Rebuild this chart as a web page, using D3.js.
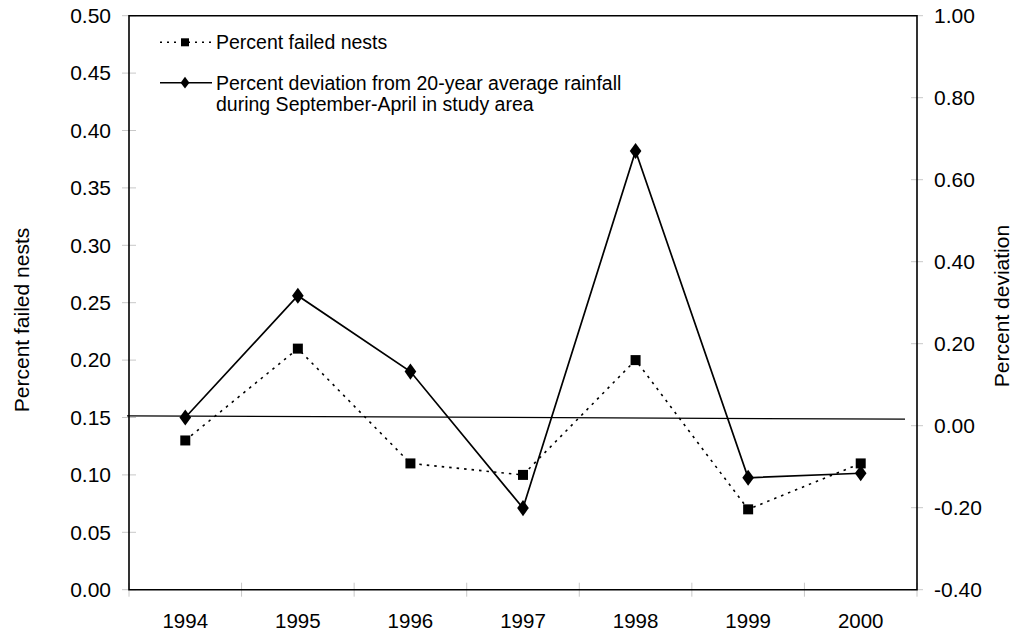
<!DOCTYPE html>
<html><head><meta charset="utf-8">
<script src="https://cdn.jsdelivr.net/npm/d3@7/dist/d3.min.js"></script>
<style>body{margin:0;background:#fff;} text{font-family:"Liberation Sans",Arial,sans-serif;fill:#000;}</style>
</head><body>
<svg id="c" width="1016" height="634"></svg>
<script>
const years = ["1994","1995","1996","1997","1998","1999","2000"];
const failedNests = [0.13, 0.21, 0.11, 0.10, 0.20, 0.07, 0.11];
const rainDeviation = [0.02, 0.317, 0.132, -0.201, 0.670, -0.127, -0.116];
const leftTicks = [0,0.05,0.10,0.15,0.20,0.25,0.30,0.35,0.40,0.45,0.50];
const rightTicks = [-0.40,-0.20,0,0.20,0.40,0.60,0.80,1.00];
const refLine = [0.1515, 0.1485];
const legendLabels = ["Percent failed nests", ["Percent deviation from 20-year average rainfall","during September-April in study area"]];

const svg = d3.select("#c");
const L = 129, R = 917, T = 15.7, B = 589.7;
const x = d3.scaleBand().domain(years).range([L, R]);
const yL = d3.scaleLinear().domain([0, 0.5]).range([B, T]);
const yR = d3.scaleLinear().domain([-0.4, 1.0]).range([B, T]);
const fmt = d => d3.format(".2f")(d).replace("\u2212","-");

const gray = "#c8c8c8";
svg.selectAll(".lt").data(leftTicks).enter().append("line")
  .attr("x1", L-7).attr("x2", L+7).attr("y1", d=>yL(d)).attr("y2", d=>yL(d)).attr("stroke", gray).attr("stroke-width",1);
svg.selectAll(".rt").data(rightTicks).enter().append("line")
  .attr("x1", R-6).attr("x2", R+6).attr("y1", d=>yR(d)).attr("y2", d=>yR(d)).attr("stroke", gray).attr("stroke-width",1);
const xt = years.map(d=>x(d)).concat([R]);
svg.selectAll(".xt").data(xt).enter().append("line")
  .attr("x1", d=>d).attr("x2", d=>d).attr("y1", B-7).attr("y2", B+7).attr("stroke", gray).attr("stroke-width",1);

svg.selectAll(".ll").data(leftTicks).enter().append("text")
  .attr("x", 111).attr("y", d=>yL(d)).attr("dy","0.35em").attr("text-anchor","end")
  .attr("font-size", 21).text(fmt);
svg.selectAll(".rl").data(rightTicks).enter().append("text")
  .attr("x", 934).attr("y", d=>yR(d)).attr("dy","0.35em").attr("text-anchor","start")
  .attr("font-size", 21).text(fmt);
svg.selectAll(".xl").data(years).enter().append("text")
  .attr("x", d=>x(d)+x.bandwidth()/2).attr("y", 620.5).attr("dy","0.35em").attr("text-anchor","middle")
  .attr("font-size", 20.5).text(d=>d);

svg.append("text").attr("transform","translate(22,320) rotate(-90)").attr("text-anchor","middle")
  .attr("dy","0.35em").attr("font-size",21).text("Percent failed nests");
svg.append("text").attr("transform","translate(1002,306) rotate(-90)").attr("text-anchor","middle")
  .attr("dy","0.35em").attr("font-size",21).text("Percent deviation");

svg.append("line").attr("x1", L-2).attr("x2", R-12).attr("y1", yL(refLine[0])).attr("y2", yL(refLine[1]))
  .attr("stroke","#000").attr("stroke-width",1.3);

svg.append("path").attr("d", `M${L},${T}H${R}V${B}H${L}Z`).attr("fill","none").attr("stroke","#000").attr("stroke-width",1.6);

const cx = d=>x(d)+x.bandwidth()/2;
svg.append("path").datum(failedNests)
  .attr("d", d3.line().x((d,i)=>cx(years[i])).y(d=>yL(d)))
  .attr("fill","none").attr("stroke","#000").attr("stroke-width",1.6).attr("stroke-dasharray","2.5,5");
svg.append("path").datum(rainDeviation)
  .attr("d", d3.line().x((d,i)=>cx(years[i])).y(d=>yR(d)))
  .attr("fill","none").attr("stroke","#000").attr("stroke-width",1.7);

svg.selectAll(".sq").data(failedNests).enter().append("path")
  .attr("d", d3.symbol().type(d3.symbolSquare).size(100)).attr("transform",(d,i)=>`translate(${cx(years[i])},${yL(d)})`).attr("fill","#000");
svg.selectAll(".dm").data(rainDeviation).enter().append("path")
  .attr("d", d3.symbol().type(d3.symbolDiamond).size(75))
  .attr("transform",(d,i)=>`translate(${cx(years[i])},${yR(d)}) scale(1.25,1)`).attr("fill","#000");

const lg = svg.append("g");
lg.append("line").attr("x1",160).attr("x2",212).attr("y1",42.3).attr("y2",42.3).attr("stroke","#000").attr("stroke-width",1.5).attr("stroke-dasharray","2,5");
lg.append("path").attr("d", d3.symbol().type(d3.symbolSquare).size(64)).attr("transform","translate(185,42.3)");
lg.append("text").attr("x",216).attr("y",42.3).attr("dy","0.35em").attr("font-size",19.5).text(legendLabels[0]);
lg.append("line").attr("x1",160).attr("x2",212).attr("y1",82.7).attr("y2",82.7).attr("stroke","#000").attr("stroke-width",1.6);
lg.append("path").attr("d", d3.symbol().type(d3.symbolDiamond).size(40)).attr("transform","translate(185,82.7) scale(1.3,1)");
lg.append("text").attr("x",216).attr("y",82.7).attr("dy","0.35em").attr("font-size",19.5).text(legendLabels[1][0]);
lg.append("text").attr("x",216).attr("y",104).attr("dy","0.35em").attr("font-size",19.5).text(legendLabels[1][1]);
</script>
</body></html>
